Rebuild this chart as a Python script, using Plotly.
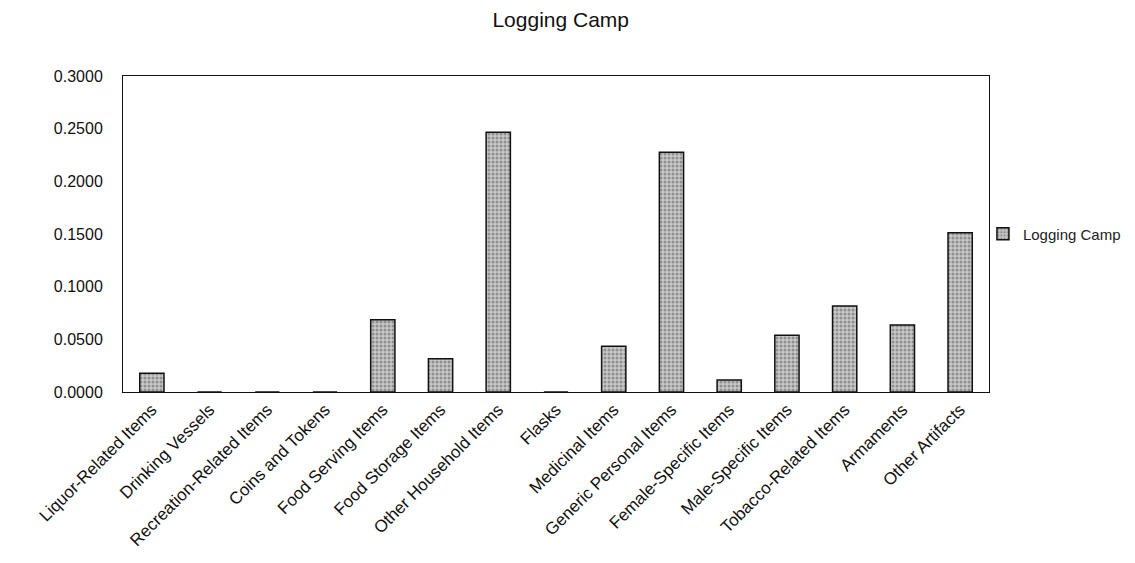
import plotly.graph_objects as go

categories = ["Liquor-Related Items", "Drinking Vessels", "Recreation-Related Items",
              "Coins and Tokens", "Food Serving Items", "Food Storage Items",
              "Other Household Items", "Flasks", "Medicinal Items",
              "Generic Personal Items", "Female-Specific Items", "Male-Specific Items",
              "Tobacco-Related Items", "Armaments", "Other Artifacts"]
values = [0.0178, 0.0, 0.0, 0.0, 0.0685, 0.0316, 0.2467, 0.0, 0.0434,
          0.2277, 0.0114, 0.0538, 0.0816, 0.0636, 0.1512]
series_name = "Logging Camp"
y_ticks = [0.0, 0.05, 0.10, 0.15, 0.20, 0.25, 0.30]

fig = go.Figure()
fig.add_trace(go.Bar(
    x=categories, y=values, name=series_name,
    marker=dict(color="#c8c8c8",
                line=dict(color="#111111", width=1.5),
                pattern=dict(shape=".", fgcolor="#555555", size=4, solidity=0.45)),
    showlegend=True,
))

font = "Liberation Sans, Arial, sans-serif"
# the page body adds an 8px offset, so margins are reduced by 8 on left/top
fig.update_layout(
    width=1135, height=563,
    paper_bgcolor="white", plot_bgcolor="white",
    margin=dict(l=115, r=154, t=68, b=179, autoexpand=False),
    title=dict(text="Logging Camp", x=0.487, xanchor="center", y=0.98, yanchor="middle",
               font=dict(family=font, size=21, color="#111111")),
    font=dict(family=font, color="#111111"),
    bargap=0.58,
    showlegend=True,
    legend=dict(x=0.993, y=0.5, xanchor="left", yanchor="middle",
                font=dict(family=font, size=15, color="#222222"),
                itemwidth=30,
                bgcolor="rgba(0,0,0,0)"),
    xaxis=dict(tickangle=-45, tickfont=dict(family=font, size=17),
               showline=True, linecolor="#111111", linewidth=1, mirror=True,
               ticks="", showgrid=False, automargin=False),
    yaxis=dict(range=[0, 0.3], tickvals=y_ticks, tickformat=".4f",
               tickfont=dict(family=font, size=16), ticklabelstandoff=16,
               showline=True, linecolor="#111111", linewidth=1, mirror=True,
               ticks="", showgrid=False, zeroline=False, automargin=False),
)

fig.write_html("out.html")
